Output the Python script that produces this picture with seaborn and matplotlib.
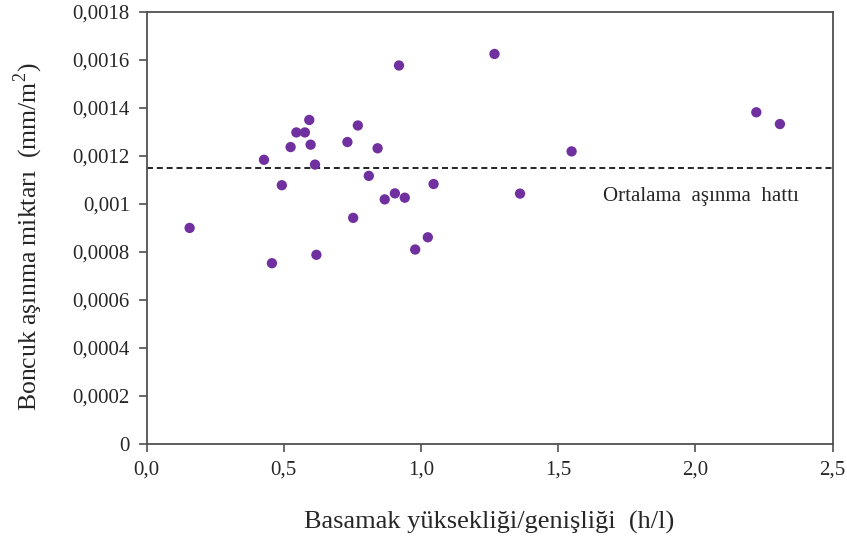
import numpy as np
import pandas as pd
import matplotlib
matplotlib.use('Agg')
import matplotlib.pyplot as plt
import seaborn as sns

# basamak yuksekligi / genisligi (h/l)
h_l = [0.157, 0.428, 0.457, 0.493, 0.525, 0.546, 0.577, 0.593, 0.598, 0.614,
       0.619, 0.732, 0.753, 0.770, 0.810, 0.842, 0.868, 0.905, 0.920, 0.941,
       0.979, 1.025, 1.046, 1.268, 1.361, 1.549, 2.222, 2.308]
# boncuk asinma miktari (mm/m2)
wear = [0.000900, 0.001184, 0.000753, 0.001078, 0.001237, 0.001298, 0.001298, 0.001350,
        0.001247, 0.001164, 0.000788, 0.001258, 0.000942, 0.001327, 0.001117, 0.001232,
        0.001019, 0.001044, 0.001577, 0.001026, 0.000810, 0.000861, 0.001083, 0.001625,
        0.001043, 0.001219, 0.001382, 0.001333]

xticks = [0.0, 0.5, 1.0, 1.5, 2.0, 2.5]
xticklabs = ["0,0", "0,5", "1,0", "1,5", "2,0", "2,5"]
yticks = [0, 0.0002, 0.0004, 0.0006, 0.0008, 0.001, 0.0012, 0.0014, 0.0016, 0.0018]
yticklabs = ["0", "0,0002", "0,0004", "0,0006", "0,0008", "0,001",
             "0,0012", "0,0014", "0,0016", "0,0018"]


def main():
    sns.set_style('white')
    plt.rcParams['font.family'] = ['Liberation Serif', 'DejaVu Serif']
    plt.rcParams['mathtext.fontset'] = 'custom'
    plt.rcParams['mathtext.rm'] = 'Liberation Serif'

    df = pd.DataFrame({"h_l": h_l, "wear": wear})
    mean_wear = np.mean(wear)

    fig = plt.figure(figsize = (8.47, 5.44), dpi = 100)
    ax = fig.add_axes([0.173, 0.184, 0.810, 0.794])
    sns.scatterplot(data = df, x = "h_l", y = "wear", color = "#7030A0", s = 55,
                    edgecolor = "none", ax = ax, zorder = 3)
    ax.axhline(mean_wear, color = "black", linestyle = (0, (3.6, 2.3)), linewidth = 1.2, zorder = 2)
    ax.text(2.377, 0.00103, "Ortalama  aşınma  hattı", ha = "right", va = "center", fontsize = 15)

    ax.set_xlim(0, 2.5)
    ax.set_ylim(0, 0.0018)
    ax.set_xticks(xticks)
    ax.set_xticklabels(xticklabs, fontsize = 15)
    ax.set_yticks(yticks)
    ax.set_yticklabels(yticklabs, fontsize = 15)
    ax.tick_params(axis = "both", direction = "out", length = 6, width = 1.2,
                   color = "#505050", bottom = True, left = True, pad = 6)
    for sp in ax.spines.values():
        sp.set_color("#505050")
        sp.set_linewidth(1.3)

    ax.set_xlabel("Basamak yüksekliği/genişliği  (h/l)", fontsize = 19, va = "center")
    ax.xaxis.set_label_coords(0.5, -0.183)
    ax.set_ylabel(r"Boncuk aşınma miktarı  (mm/m$^{2}$)", fontsize = 18.5, va = "center")
    ax.yaxis.set_label_coords(-0.172, 0.48)

    plt.savefig("out.png", dpi = 100)
    plt.close()


if __name__ == '__main__':
    main()
